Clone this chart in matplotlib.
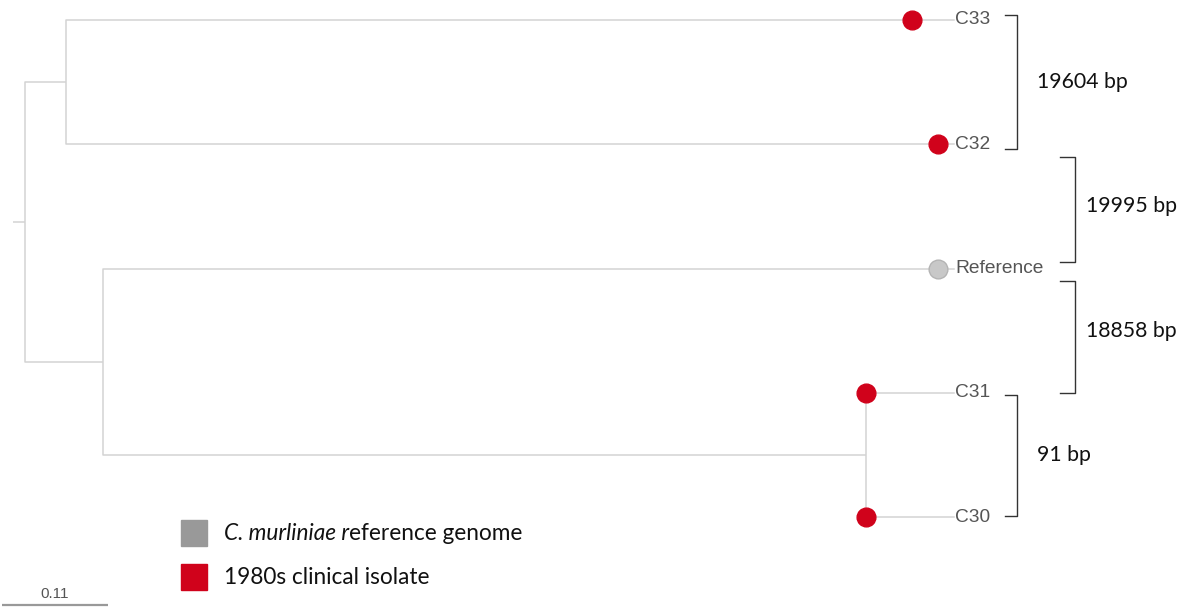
import matplotlib

matplotlib.use("Agg")
import matplotlib.pyplot as plt  # noqa: E402

# --- tree data (branch lengths in substitutions/site) ---
node_names = ["root", "n1", "n2", "n3", "C33", "C32", "Reference", "C31", "C30"]
node_parent = [None, "root", "root", "n2", "n1", "n1", "n2", "n3", "n3"]
branch_len = [0.0125, 0.0425, 0.081, 0.792, 0.878, 0.905, 0.8665, 0.0, 0.0]

tip_order = ["C33", "C32", "Reference", "C31", "C30"]
tip_group = ["clinical", "clinical", "reference", "clinical", "clinical"]

# pairwise SNP distances between neighbouring tips
pair_tips = [("C33", "C32"), ("C32", "Reference"), ("Reference", "C31"), ("C31", "C30")]
pair_labels = ["19604 bp", "19995 bp", "18858 bp", "91 bp"]

legend_groups = ["reference", "clinical"]
legend_labels = [("C. murliniae r", "eference genome"), ("", "1980s clinical isolate")]
scale_value = 0.11

GROUP_COLORS = {"reference": "#999999", "clinical": "#d0021b"}
MARKER_FACE = {"reference": "#c8c8c8", "clinical": "#d0021b"}
MARKER_EDGE = {"reference": "#b4b4b4", "clinical": "#d0021b"}
TREE_COL = "#d3d3d3"
LABEL_COL = "#555555"
PX = 106 / 0.11  # pixels per unit of branch length
ROOT_PX = 25
TIP_PX0, TIP_STEP = 20, 124.25


def px2x(p):
    return (p - ROOT_PX) / PX


def px2y(p):
    return (p - TIP_PX0) / TIP_STEP


# --- layout tree ---
parent_of = dict(zip(node_names, node_parent))
bl = dict(zip(node_names, branch_len))
xpos = {}
for n in node_names:
    p = parent_of[n]
    xpos[n] = 0.0 if p is None else xpos[p] + bl[n]
children = {n: [c for c, p in parent_of.items() if p == n] for n in node_names}
ypos = {t: i for i, t in enumerate(tip_order)}


def get_y(n):
    if n not in ypos:
        ys = [get_y(c) for c in children[n]]
        ypos[n] = (min(ys) + max(ys)) / 2
    return ypos[n]


get_y("root")

fig = plt.figure(figsize=(11.87, 6.08), dpi=100)
ax = fig.add_axes([0, 0, 1, 1])
ax.set_xlim(px2x(0), px2x(1187))
ax.set_ylim(px2y(608), px2y(0))
ax.axis("off")

lw = 1.1
# root stub
ax.plot([-bl["root"], 0], [ypos["root"]] * 2, color=TREE_COL, lw=lw, solid_capstyle="butt")
for n in node_names:
    p = parent_of[n]
    if p is None:
        continue
    ax.plot([xpos[p], xpos[p], xpos[n]], [ypos[p], ypos[n], ypos[n]],
            color=TREE_COL, lw=lw, solid_capstyle="butt")

# tips: leader lines, markers, labels
label_x = px2x(954)
for t, g in zip(tip_order, tip_group):
    ax.plot([xpos[t], label_x], [ypos[t]] * 2, color=TREE_COL, lw=lw, zorder=1)
    ax.plot(xpos[t], ypos[t], "o", ms=13.5, mfc=MARKER_FACE[g], mec=MARKER_EDGE[g],
            mew=1, zorder=3)
    ax.text(label_x + 0.001, ypos[t], t, fontsize=13.8, color=LABEL_COL,
            family="Liberation Sans", va="center", ha="left")

# brackets with SNP distances
cols = [(1005, 1017, 1037), (1060, 1075, 1086)]
bracket_col = [0, 1, 1, 0]
pads = [(-0.04, 0.04), (0.1, -0.05), (0.1, 0.0), (0.015, -0.01)]
for i, ((a, b), lab) in enumerate(zip(pair_tips, pair_labels)):
    x0, x1, xt = [px2x(v) for v in cols[bracket_col[i]]]
    y0 = ypos[a] + pads[i][0]
    y1 = ypos[b] + pads[i][1]
    ax.plot([x0, x1, x1, x0], [y0, y0, y1, y1], color="#333333", lw=1.0)
    ax.text(xt, (ypos[a] + ypos[b]) / 2, lab, fontsize=15.3, family="Lato",
            va="center", ha="left", color="#111111")

# legend
for k, (g, (it, rest)) in enumerate(zip(legend_groups, legend_labels)):
    ly = px2y(533 + 44 * k)
    ax.plot(px2x(194), ly, "s", ms=19, color=GROUP_COLORS[g], clip_on=False)
    t1 = ax.text(px2x(224), ly, it, fontsize=16.3, family="Lato", style="italic",
                 va="center", ha="left", color="#111111")
    ax.annotate(rest, xy=(1, 0.5), xycoords=t1, va="center", ha="left",
                fontsize=16.3, family="Lato", color="#111111")

# scale bar
sy = px2y(605)
sx0 = px2x(2)
ax.plot([sx0, sx0 + scale_value], [sy, sy], color="#999999", lw=1.6, clip_on=False,
        solid_capstyle="butt")
ax.text(sx0 + scale_value / 2, px2y(601), f"{scale_value:.2f}", fontsize=11,
        color="#555555", ha="center", va="bottom", family="Liberation Sans")

fig.savefig("out.png", dpi=100)
